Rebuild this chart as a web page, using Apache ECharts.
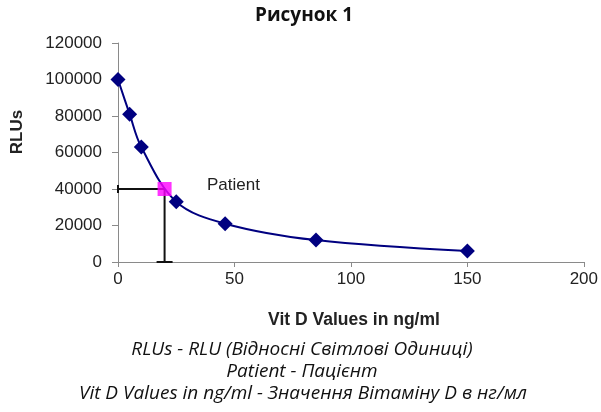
<!DOCTYPE html>
<html>
<head>
<meta charset="utf-8">
<script src="https://cdn.jsdelivr.net/npm/echarts@6/dist/echarts.min.js"></script>
<style>
html,body{margin:0;padding:0;background:#fff;}
#c{width:601px;height:412px;}
</style>
</head>
<body>
<div id="c"></div>
<script>
const vitD = [0, 5, 10, 25, 46, 85, 150];
const rlu = [100000, 81000, 63000, 33000, 21000, 12000, 6000];
const patientVitD = [20];
const patientRlu = [40000];
const titleText = 'Рисунок 1';
const yName = 'RLUs';
const xName = 'Vit D Values in ng/ml';
const patientLabel = 'Patient';
const captions = [
  'RLUs - RLU (Відносні Світлові Одиниці)',
  'Patient - Пацієнт',
  'Vit D Values in ng/ml - Значення Вітаміну D в нг/мл'
];

const chart = echarts.init(document.getElementById('c'), null, {renderer: 'canvas'});
const axisCol = '#8a8a8a';
const labelFont = {fontFamily: 'Liberation Sans, Arial', fontSize: 17, color: '#222'};

const curve = vitD.map((x, i) => [x, rlu[i]]);
const patient = patientVitD.map((x, i) => [x, patientRlu[i]]);

chart.setOption({
  animation: false,
  grid: {left: 118, right: 17, top: 43, bottom: 150},
  xAxis: {
    type: 'value', min: 0, max: 200, interval: 50,
    splitLine: {show: false},
    axisLine: {lineStyle: {color: axisCol, width: 1}},
    axisTick: {show: true, inside: false, length: 5, lineStyle: {color: axisCol}},
    axisLabel: Object.assign({margin: 9}, labelFont)
  },
  yAxis: {
    type: 'value', min: 0, max: 120000, interval: 20000,
    splitLine: {show: false},
    axisLine: {show: true, lineStyle: {color: axisCol, width: 1}},
    axisTick: {show: true, inside: false, length: 6, lineStyle: {color: axisCol}},
    axisLabel: Object.assign({margin: 16, formatter: function (v) { return String(v); }}, labelFont)
  },
  series: [
    {
      type: 'custom',
      data: patient,
      z: 1,
      renderItem: function (params, api) {
        const x = api.value(0), y = api.value(1);
        const p = api.coord([x, y]);
        const l = api.coord([0, y]);
        const b = api.coord([x, 0]);
        const st = {stroke: '#111', lineWidth: 2};
        return {
          type: 'group',
          children: [
            {type: 'line', shape: {x1: l[0], y1: l[1], x2: p[0], y2: p[1]}, style: st},
            {type: 'line', shape: {x1: l[0], y1: l[1] - 4, x2: l[0], y2: l[1] + 4}, style: st},
            {type: 'line', shape: {x1: p[0], y1: p[1], x2: b[0], y2: b[1]}, style: st},
            {type: 'line', shape: {x1: b[0] - 8, y1: b[1], x2: b[0] + 8, y2: b[1]}, style: st}
          ]
        };
      }
    },
    {
      type: 'line',
      data: curve,
      smooth: 0.35,
      z: 3,
      symbol: 'diamond',
      symbolSize: 15,
      lineStyle: {color: '#000080', width: 2},
      itemStyle: {color: '#000080'}
    },
    {
      type: 'scatter',
      data: patient,
      z: 4,
      symbol: 'rect',
      symbolSize: 14,
      itemStyle: {color: '#ff00ff'}
    }
  ],
  graphic: [
    {type: 'text', x: 304, y: 16, style: {text: titleText, font: 'bold 19px "Open Sans"', fill: '#111', textAlign: 'center', textVerticalAlign: 'middle'}},
    {type: 'text', x: 17, y: 132, rotation: Math.PI / 2, style: {text: yName, font: 'bold 17px "Liberation Sans"', fill: '#222', textAlign: 'center', textVerticalAlign: 'middle'}},
    {type: 'text', x: 354, y: 320, style: {text: xName, font: 'bold 17.5px "Liberation Sans"', fill: '#222', textAlign: 'center', textVerticalAlign: 'middle'}},
    {type: 'text', x: 207, y: 185, style: {text: patientLabel, font: '17px "Liberation Sans"', fill: '#222', textAlign: 'left', textVerticalAlign: 'middle'}},
    {type: 'text', x: 302, y: 350, style: {text: captions[0], font: 'italic 19px "Open Sans"', fill: '#111', textAlign: 'center', textVerticalAlign: 'middle'}},
    {type: 'text', x: 302, y: 372, style: {text: captions[1], font: 'italic 19px "Open Sans"', fill: '#111', textAlign: 'center', textVerticalAlign: 'middle'}},
    {type: 'text', x: 303, y: 394, style: {text: captions[2], font: 'italic 19px "Open Sans"', fill: '#111', textAlign: 'center', textVerticalAlign: 'middle'}}
  ]
});
</script>
</body>
</html>
